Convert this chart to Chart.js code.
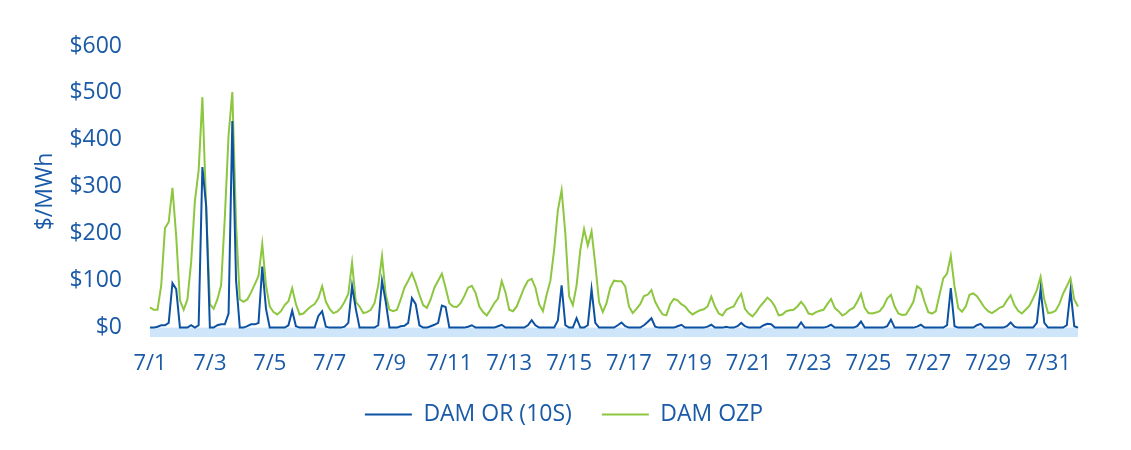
<!DOCTYPE html>
<html>
<head>
<meta charset="utf-8">
<title>DAM OR (10S) vs DAM OZP</title>
<script src="https://cdn.jsdelivr.net/npm/chart.js@4/dist/chart.umd.min.js"></script>
<style>
  html, body { margin: 0; padding: 0; background: #fff; }
  #wrap { width: 1131px; height: 450px; }
</style>
</head>
<body>
<div id="wrap"><canvas id="grafica"></canvas></div>
<script>
// days of July, one label every 3 hours
var days = ['7/1','7/2','7/3','7/4','7/5','7/6','7/7','7/8','7/9','7/10','7/11','7/12','7/13','7/14','7/15','7/16',
            '7/17','7/18','7/19','7/20','7/21','7/22','7/23','7/24','7/25','7/26','7/27','7/28','7/29','7/30','7/31'];
var hours = ['00','03','06','09','12','15','18','21'];

// DAM OR (10S), $/MWh, every 3 hours
var damOR = [
  0, 0, 2, 5, 5, 10, 95, 82,       // 7/1
  0, 0, 0, 5, 0, 5, 342, 260,      // 7/2
  0, 0, 5, 7, 7, 30, 440, 100,     // 7/3
  0, 0, 3, 7, 7, 10, 130, 40,      // 7/4
  0, 0, 0, 0, 0, 5, 36, 3,         // 7/5
  0, 0, 0, 0, 0, 25, 35, 2,        // 7/6
  0, 0, 0, 0, 2, 10, 89, 40,       // 7/7
  0, 0, 0, 0, 0, 5, 100, 55,       // 7/8
  0, 0, 0, 3, 4, 10, 63, 50,       // 7/9
  5, 0, 0, 3, 6, 10, 47, 44,       // 7/10
  0, 0, 0, 0, 0, 2, 5, 0,          // 7/11
  0, 0, 0, 0, 0, 3, 6, 0,          // 7/12
  0, 0, 0, 0, 0, 5, 16, 5,         // 7/13
  0, 0, 0, 0, 0, 15, 90, 5,        // 7/14
  0, 0, 20, 0, 0, 5, 82, 10,       // 7/15
  0, 0, 0, 0, 0, 5, 11, 3,         // 7/16
  0, 0, 0, 0, 5, 12, 20, 2,        // 7/17
  0, 0, 0, 0, 0, 3, 6, 0,          // 7/18
  0, 0, 0, 0, 0, 2, 6, 0,          // 7/19
  0, 0, 2, 0, 0, 3, 10, 3,         // 7/20
  0, 0, 0, 0, 5, 8, 7, 0,          // 7/21
  0, 0, 0, 0, 0, 0, 11, 0,         // 7/22
  0, 0, 0, 0, 0, 2, 6, 0,          // 7/23
  0, 0, 0, 0, 0, 3, 13, 0,         // 7/24
  0, 0, 0, 0, 0, 3, 17, 0,         // 7/25
  0, 0, 0, 0, 0, 2, 6, 0,          // 7/26
  0, 0, 0, 0, 0, 5, 84, 3,         // 7/27
  0, 0, 0, 0, 0, 5, 8, 0,          // 7/28
  0, 0, 0, 0, 0, 3, 11, 2,         // 7/29
  0, 0, 0, 0, 0, 10, 82, 10,       // 7/30
  0, 0, 0, 0, 0, 5, 79, 3,         // 7/31
  0                                // 8/1 00
];

// DAM OZP, $/MWh, every 3 hours
var damOZP = [
  43, 38, 38, 90, 212, 225, 298, 195,     // 7/1
  58, 38, 60, 140, 270, 335, 491, 260,    // 7/2
  50, 40, 60, 90, 235, 410, 502, 220,     // 7/3
  60, 55, 60, 75, 92, 110, 178, 90,       // 7/4
  45, 33, 28, 35, 48, 56, 84, 50,         // 7/5
  28, 30, 38, 45, 50, 63, 88, 55,         // 7/6
  40, 31, 34, 42, 55, 72, 138, 55,        // 7/7
  45, 31, 33, 38, 52, 90, 152, 70,        // 7/8
  38, 35, 38, 60, 85, 100, 116, 95,       // 7/9
  70, 48, 42, 60, 85, 100, 115, 85,       // 7/10
  52, 45, 44, 52, 67, 85, 89, 74,         // 7/11
  45, 33, 26, 38, 52, 62, 99, 75,         // 7/12
  38, 35, 45, 65, 85, 100, 104, 85,       // 7/13
  50, 35, 70, 100, 165, 250, 293, 200,    // 7/14
  67, 48, 90, 165, 210, 175, 205, 135,    // 7/15
  55, 33, 52, 85, 100, 99, 99, 88,        // 7/16
  45, 31, 40, 50, 67, 70, 80, 55,         // 7/17
  40, 28, 26, 50, 61, 58, 50, 45,         // 7/18
  35, 28, 33, 37, 39, 45, 66, 45,         // 7/19
  30, 26, 38, 42, 45, 60, 72, 40,         // 7/20
  30, 24, 33, 45, 54, 64, 57, 45,         // 7/21
  26, 28, 35, 37, 38, 45, 55, 45,         // 7/22
  30, 28, 33, 36, 38, 50, 61, 42,         // 7/23
  35, 26, 30, 38, 42, 55, 72, 42,         // 7/24
  31, 30, 32, 35, 45, 62, 70, 45,         // 7/25
  30, 27, 28, 40, 55, 88, 82, 55,         // 7/26
  33, 30, 35, 70, 105, 115, 153, 88,      // 7/27
  42, 34, 45, 70, 73, 67, 55, 43,         // 7/28
  35, 31, 36, 42, 45, 58, 69, 48,         // 7/29
  36, 30, 38, 46, 62, 80, 108, 60,        // 7/30
  31, 32, 36, 50, 72, 88, 105, 60,        // 7/31
  45                                      // 8/1 00
];

var yTicks = [0, 100, 200, 300, 400, 500, 600];

var etiquetas = [];
for (var d = 0; d < days.length; d++) {
  for (var h = 0; h < hours.length; h++) {
    etiquetas.push(days[d] + ' ' + hours[h] + ':00');
  }
}
etiquetas.push('8/1 00:00');

var azulTexto = '#1a5aa7';
var fuente = { family: 'Open Sans', size: 23 };
var fuenteX = { family: 'Open Sans', size: 22 };

// light blue strip between $0 and the bottom of the plot
var bandaCero = {
  id: 'bandaCero',
  beforeDatasetsDraw: function(chart) {
    var ctx = chart.ctx, area = chart.chartArea;
    var y0 = chart.scales.y.getPixelForValue(0);
    ctx.save();
    ctx.fillStyle = '#cfe5fa';
    ctx.fillRect(area.left, y0, area.right - area.left, area.bottom - y0);
    ctx.restore();
  }
};

// legend is centred on the whole page, not on the padded box
var moverLeyenda = {
  id: 'moverLeyenda',
  afterLayout: function(chart) {
    var ley = chart.legend;
    ley.left += 25; ley.right += 25;
    ley.top += 2; ley.bottom += 2;
  }
};

var ctx = document.getElementById('grafica').getContext('2d');
var grafica = new Chart(ctx, {
  type: 'line',
  data: {
    labels: etiquetas,
    datasets: [{
      label: 'DAM OR (10S)',
      data: damOR,
      borderColor: '#0d52a2',
      backgroundColor: '#0d52a2',
      borderWidth: 2,
      pointRadius: 0,
      tension: 0
    }, {
      label: 'DAM OZP',
      data: damOZP,
      borderColor: '#8dc63f',
      backgroundColor: '#8dc63f',
      borderWidth: 2,
      pointRadius: 0,
      tension: 0
    }]
  },
  options: {
    responsive: true,
    maintainAspectRatio: false,
    animation: false,
    layout: { padding: { top: 46, right: 53, bottom: 16, left: 0 } },
    plugins: {
      tooltip: { enabled: false },
      legend: {
        position: 'bottom',
        labels: {
          usePointStyle: true,
          pointStyle: 'line',
          pointStyleWidth: 47,
          padding: 30,
          color: azulTexto,
          font: fuente
        }
      }
    },
    scales: {
      x: {
        grid: { display: false, drawTicks: false },
        border: { display: false },
        afterFit: function(scale) { scale.height = 34; },
        ticks: {
          autoSkip: false,
          maxRotation: 0,
          padding: 14,
          color: azulTexto,
          font: fuenteX,
          callback: function(value, index) {
            return index % 16 === 0 ? days[index / 8] : null;
          }
        }
      },
      y: {
        min: -20,
        max: 600,
        grid: { display: false, drawTicks: false },
        border: { display: false },
        afterFit: function(scale) { scale.width = 150; },
        afterBuildTicks: function(scale) {
          scale.ticks = yTicks.map(function(v) { return { value: v }; });
        },
        title: {
          display: true,
          text: '$/MWh',
          color: azulTexto,
          font: fuente,
          padding: { top: 32, bottom: 0 }
        },
        ticks: {
          padding: 28,
          color: azulTexto,
          font: fuente,
          callback: function(value) { return '$' + value; }
        }
      }
    }
  },
  plugins: [bandaCero, moverLeyenda]
});
</script>
</body>
</html>
